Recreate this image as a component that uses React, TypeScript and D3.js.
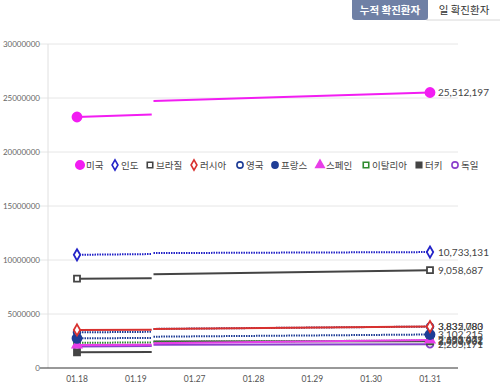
import React, { useEffect, useRef } from 'react';
import * as d3 from 'd3';

// x categories
const dates = ['01.18', '01.19', '01.27', '01.28', '01.29', '01.30', '01.31'];
const yTicks = [0, 5000000, 10000000, 15000000, 20000000, 25000000, 30000000];

const countries = ['미국', '인도', '브라질', '러시아', '영국', '프랑스', '스페인', '이탈리아', '터키', '독일'];
// value at 01.18 and at the end of the first run
const firstStart = [23240000, 10480000, 8270000, 3520000, 3300000, 2750000, 2130000, 2340000, 1450000, 2000000];
const firstEnd = [23470000, 10550000, 8300000, 3550000, 3350000, 2780000, 2150000, 2360000, 1470000, 2030000];
// value at the start of the second run and at 01.31
const secondStart = [24720000, 10640000, 8670000, 3620000, 3620000, 2900000, 2300000, 2420000, 2450000, 2150000];
const lastValues = [25512197, 10733131, 9058687, 3832080, 3835783, 3102215, 2603472, 2553032, 2470901, 2205171];

const colors = ['#f21df2', '#2323c8', '#444444', '#d8312f', '#1f3d96', '#1f3d96', '#e83ee8', '#2e8b2e', '#444444', '#8a3fcb'];
const symbols = [d3.symbolCircle, d3.symbolDiamond, d3.symbolSquare, d3.symbolDiamond, d3.symbolCircle,
  d3.symbolCircle, d3.symbolTriangle, d3.symbolSquare, d3.symbolSquare, d3.symbolCircle];
const filled = [true, false, false, false, false, true, true, false, true, false];
const dotted = [false, true, false, false, true, true, false, true, false, false];

// position of the gap, in category steps from 01.18
const breakAt = 1.27;

export default function App() {
  const ref = useRef<SVGSVGElement>(null);

  useEffect(() => {
    const svg = d3.select(ref.current);
    svg.selectAll('*').remove();

    const left = 48, right = 458, top = 44, bottom = 368;

    const x = d3.scalePoint().domain(dates).range([77, 430]);
    const xi = d3.scaleLinear().domain([0, dates.length - 1]).range([x(dates[0])!, x(dates[dates.length - 1])!]);
    const y = d3.scaleLinear().domain([0, 30000000]).range([bottom, top]);

    // grid
    svg.append('g').selectAll('line').data(yTicks.slice(1)).join('line')
      .attr('x1', left - 8).attr('x2', right)
      .attr('y1', d => y(d)).attr('y2', d => y(d))
      .attr('stroke', '#e6e6e6');
    svg.append('line').attr('x1', left).attr('x2', left).attr('y1', top).attr('y2', bottom)
      .attr('stroke', '#e0e0e0');
    svg.append('line').attr('x1', left - 8).attr('x2', right).attr('y1', bottom).attr('y2', bottom)
      .attr('stroke', '#333').attr('stroke-width', 1);

    svg.append('g').selectAll('text').data(yTicks).join('text')
      .attr('x', 40).attr('y', d => y(d) + 3)
      .attr('text-anchor', 'end')
      .attr('font-family', 'Lato, sans-serif').attr('font-size', 8).attr('fill', '#666')
      .text(d => String(d));

    svg.append('g').selectAll('text').data(dates).join('text')
      .attr('x', d => x(d)!).attr('y', 382)
      .attr('text-anchor', 'middle')
      .attr('font-family', 'Lato, sans-serif').attr('font-size', 8.5).attr('fill', '#555')
      .text(d => d);

    const line = d3.line<[number, number]>().x(d => xi(d[0])).y(d => y(d[1]));

    // draw from the bottom series up so the top ones stay on top
    const order = d3.range(countries.length).reverse();
    order.forEach(i => {
      const g = svg.append('g');
      const segs: [number, number][][] = [
        [[0, firstStart[i]], [breakAt, firstEnd[i]]],
        [[breakAt + 0.03, secondStart[i]], [dates.length - 1, lastValues[i]]],
      ];
      segs.forEach(s => {
        g.append('path').attr('d', line(s))
          .attr('fill', 'none').attr('stroke', colors[i]).attr('stroke-width', 2)
          .attr('stroke-dasharray', dotted[i] ? '1.5,1' : null);
      });
      const sym = d3.symbol().type(symbols[i]).size(i === 0 || i === 5 ? 64 : 36);
      [[0, firstStart[i]], [dates.length - 1, lastValues[i]]].forEach(p => {
        g.append('path').attr('d', sym())
          .attr('transform', `translate(${xi(p[0])},${y(p[1])})`)
          .attr('fill', filled[i] ? colors[i] : '#fff')
          .attr('stroke', colors[i]).attr('stroke-width', 1.8);
      });
      g.append('text')
        .attr('x', xi(dates.length - 1) + 8).attr('y', y(lastValues[i]) + 3.5)
        .attr('font-family', 'Lato, sans-serif').attr('font-size', 10).attr('fill', '#444')
        .text(d3.format(',')(lastValues[i]));
    });

    // legend
    const legendX = [80, 115, 150, 194, 240, 275, 320, 366, 419, 455];
    const legend = svg.append('g');
    countries.forEach((c, i) => {
      const sym = d3.symbol().type(symbols[i]).size(i === 0 ? 56 : 30);
      legend.append('path').attr('d', sym())
        .attr('transform', `translate(${legendX[i]},165)`)
        .attr('fill', filled[i] ? colors[i] : '#fff')
        .attr('stroke', colors[i]).attr('stroke-width', 1.6);
      legend.append('text')
        .attr('x', legendX[i] + 6).attr('y', 168.5)
        .attr('font-family', '"Noto Sans CJK KR", sans-serif').attr('font-size', 9.5).attr('fill', '#444')
        .text(c);
    });

    // tab buttons
    svg.append('rect').attr('x', 427).attr('y', -1).attr('width', 74).attr('height', 21)
      .attr('fill', '#fff').attr('stroke', '#d8d8d8');
    svg.append('rect').attr('x', 352).attr('y', -4).attr('width', 76).attr('height', 24).attr('rx', 3)
      .attr('fill', '#6f80a5');
    svg.append('text').attr('x', 390).attr('y', 14).attr('text-anchor', 'middle')
      .attr('font-family', '"Noto Sans CJK KR", sans-serif').attr('font-size', 10.5).attr('font-weight', 700)
      .attr('fill', '#fff').text('누적 확진환자');
    svg.append('text').attr('x', 464).attr('y', 14).attr('text-anchor', 'middle')
      .attr('font-family', '"Noto Sans CJK KR", sans-serif').attr('font-size', 10.5)
      .attr('fill', '#333').text('일 확진환자');
  }, []);

  return <svg ref={ref} width="500" height="388" style={{ position: 'absolute', left: 0, top: 0, background: '#fff' }}></svg>;
}
